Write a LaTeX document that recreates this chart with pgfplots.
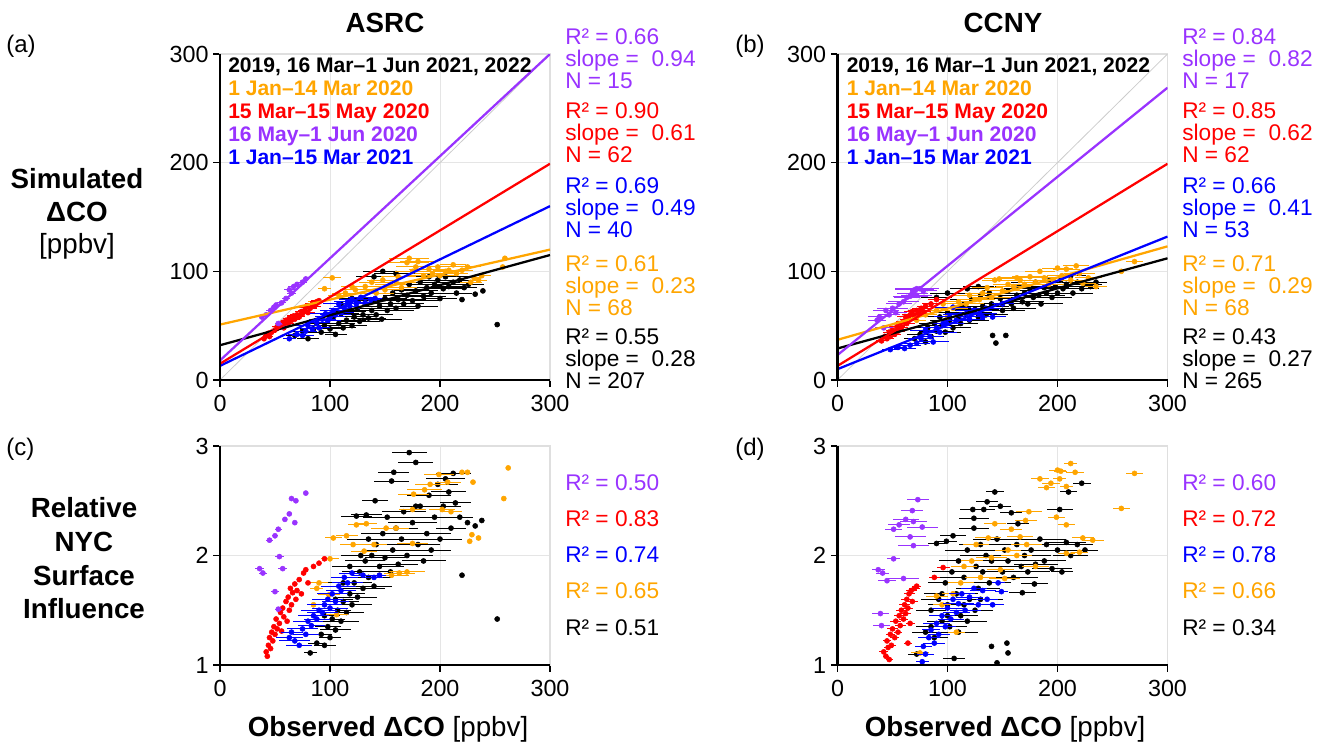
\documentclass[border=0pt]{standalone}
\usepackage{fontspec}
\setmainfont{Liberation Sans}
\usepackage{pgfplots}
\pgfplotsset{compat=1.18}
\definecolor{cpur}{HTML}{9933FF}
\definecolor{cora}{HTML}{FFA500}
\definecolor{cred}{HTML}{FF0000}
\definecolor{cblu}{HTML}{0000FF}

\newcommand\annfont{\fontsize{17}{17}\selectfont}
\newcommand\legfont{\fontsize{15.8}{16}\selectfont\bfseries}
\newcommand\labfont{\fontsize{20.8}{21}\selectfont}
% one line of coloured text, baseline at (x,y) in pixels
\newcommand\ann[4]{\node[anchor=base west, inner sep=0, text=#3, font=\annfont] at (#1,#2) {#4};}
\newcommand\leg[4]{\node[anchor=base west, inner sep=0, text=#3, font=\legfont] at (#1,#2) {#4};}

\pgfplotsset{
  panel/.style={
    scale only axis, width=247.5pt,
    xmin=0, xmax=300, xtick={0,100,200,300},
    axis line style={draw=gray!25, line width=0.8pt},
    grid=major, grid style={gray!20, line width=0.7pt},
    xtick pos=left, ytick pos=left,
    tick align=outside, major tick length=5pt,
    tick style={black, line width=1.1pt},
    ticklabel style={font=\fontsize{17.5}{18}\selectfont},
    xticklabel style={yshift=-3pt},
    /pgf/number format/assume math mode=true,
    clip mode=individual,
  },
  pts/.style={only marks, mark=*, mark size=1.9pt,
    error bars/x dir=both, error bars/x explicit,
    error bars/error mark=none,
    error bars/error bar style={line width=0.75pt}},
  fit/.style={no marks, line width=1.7pt},
}

\begin{document}
\begin{tikzpicture}
\path[use as bounding box] (0,0) rectangle (994.5pt,-558.75pt);

% ---------------- (a) ASRC simulated
\begin{axis}[panel, at={(165pt,-285pt)}, anchor=south west, height=244.5pt,
  ymin=0, ymax=300, ytick={0,100,200,300}]
\addplot[gray!40, line width=0.6pt] coordinates {(0,0) (300,300)};
\addplot[pts, color=black] table[x error=ex] {
x y ex
68 41 8
75 45 10
80 38 10
85 47 12
88 52 10
92 44 14
95 50 12
98 55 15
100 47 12
103 58 14
105 42 10
108 52 15
110 61 16
112 48 12
115 55 18
118 63 15
120 50 14
122 58 20
125 66 16
127 54 18
130 60 20
132 70 18
135 57 16
138 64 22
140 73 20
142 60 15
145 68 22
147 56 18
150 75 20
152 64 24
155 70 18
157 80 22
160 66 20
162 74 25
165 83 20
167 70 18
170 78 22
172 88 20
175 73 24
178 82 20
180 68 18
182 90 22
185 77 20
188 85 24
190 95 20
192 80 18
195 88 22
198 92 20
200 75 15
203 84 18
205 95 20
208 86 16
212 90 18
215 80 14
218 92 15
222 85 12
226 88 14
220 74 0
232 79 0
239 82 0
252 51 0
160 98 20
148 100 18
140 95 16
120 75 14
110 70 12
};
\addplot[pts, color=cora] table[x error=ex] {
x y ex
82 67 6
88 72 8
95 84 6
102 94 8
108 78 10
114 80 12
120 86 10
123 83 14
128 76 12
132 86 14
138 90 12
142 80 16
148 92 14
150 83 16
155 88 14
160 90 18
162 95 16
165 85 14
170 108 20
172 112 18
175 100 16
178 104 18
180 109 16
185 96 14
190 102 18
193 98 16
198 104 16
200 96 14
205 100 16
208 101 14
212 106 12
215 98 10
220 101 10
225 104 12
228 90 10
231 94 8
235 92 8
238 96 8
257 104 0
259 112 0
};
\addplot[pts, color=cred] table[x error=ex] {
x y ex
40 38 3
42 41 3
44 43 4
45 40 3
47 44 4
50 46 4
52 49 5
55 50 5
57 53 5
58 48 4
60 55 5
62 52 5
63 57 6
65 55 5
67 59 6
68 56 5
70 60 6
72 58 5
74 63 6
75 61 6
77 64 6
78 67 6
80 62 6
82 66 6
84 70 7
86 68 6
88 72 6
90 73 7
};
\addplot[pts, color=cpur] table[x error=ex] {
x y ex
38 58 4
42 60 3
46 64 4
49 67 3
51 69 4
53 52 3
56 71 4
57 49 3
60 75 4
63 83 5
65 80 4
67 86 5
70 88 4
75 90 4
78 93 3
};
\addplot[pts, color=cblu] table[x error=ex] {
x y ex
63 38 6
70 42 8
75 41 10
78 45 10
80 50 12
84 47 10
88 53 12
90 48 10
93 56 12
96 61 14
98 55 12
100 58 14
103 64 12
105 60 14
108 70 14
110 62 12
113 66 14
116 72 12
118 68 14
120 74 12
124 70 14
128 76 12
132 71 10
137 74 8
141 75 6
};
\addplot[fit, color=black] coordinates {(0,32) (300,115)};
\addplot[fit, color=cora] coordinates {(0,51) (300,120)};
\addplot[fit, color=cblu] coordinates {(0,13) (300,160)};
\addplot[fit, color=cred] coordinates {(0,15) (300,199)};
\addplot[fit, color=cpur] coordinates {(0,18) (300,300)};
\draw[black, line width=1.6pt] (rel axis cs:0,1) -- (rel axis cs:0,0) -- (rel axis cs:1,0);
\end{axis}

% ---------------- (b) CCNY simulated
\begin{axis}[panel, at={(628.125pt,-285pt)}, anchor=south west, height=244.5pt,
  ymin=0, ymax=300, ytick={0,100,200,300}]
\addplot[gray!40, line width=0.6pt] coordinates {(0,0) (300,300)};
\addplot[pts, color=black] table[x error=ex] {
x y ex
70 38 10
75 42 12
80 35 10
82 48 14
85 40 12
88 52 14
90 45 16
93 58 14
95 50 18
98 44 14
100 62 16
102 55 18
105 48 16
108 66 18
110 58 20
112 52 16
115 70 20
118 62 22
120 55 18
122 74 20
125 65 22
128 58 20
130 78 22
132 68 24
135 60 20
138 80 22
140 70 24
141 41 0
144 34 0
148 75 22
150 64 20
153 41 0
155 82 24
158 70 22
160 66 20
163 78 24
165 86 22
168 72 20
170 80 24
173 70 22
175 84 24
178 76 20
180 90 22
183 78 24
185 70 20
188 85 22
190 80 24
193 92 20
195 76 18
198 86 22
200 80 20
203 92 18
205 84 20
208 88 16
212 96 14
214 80 18
218 90 14
222 84 16
226 88 14
230 86 12
235 90 10
100 80 16
90 76 14
118 84 16
128 86 14
};
\addplot[pts, color=cora] table[x error=ex] {
x y ex
72 55 8
80 60 10
90 64 12
96 70 10
100 58 12
105 66 14
110 72 14
117 70 16
120 78 14
125 74 16
129 74 14
132 80 16
136 85 14
140 76 18
143 92 12
147 93 14
150 82 16
155 88 14
160 86 16
163 94 16
166 92 14
170 88 18
175 95 16
180 90 16
184 100 14
188 94 16
192 88 14
196 92 16
200 103 14
204 96 14
208 102 12
212 92 14
217 105 12
220 98 14
223 89 12
228 94 12
235 86 10
258 100 0
270 109 8
};
\addplot[pts, color=cred] table[x error=ex] {
x y ex
40 36 5
43 40 6
45 38 6
47 44 6
48 40 5
50 46 6
52 42 6
54 49 7
55 45 6
57 52 7
58 48 6
60 54 7
62 58 8
63 52 7
65 56 8
66 60 7
68 63 8
70 58 7
72 64 8
74 61 7
76 66 8
78 63 7
80 68 8
85 70 8
90 74 8
};
\addplot[pts, color=cpur] table[x error=ex] {
x y ex
36 55 8
38 58 10
42 48 8
44 64 12
47 60 10
50 66 14
53 62 10
56 70 12
60 72 14
63 76 12
66 77 16
68 80 14
70 83 18
72 84 20
75 84 16
78 82 12
72 78 14
};
\addplot[pts, color=cblu] table[x error=ex] {
x y ex
48 28 8
55 30 8
61 29 10
66 32 10
72 34 12
76 38 12
80 46 14
84 40 12
87 35 14
90 48 14
93 44 16
96 52 14
99 52 16
102 58 14
105 67 16
108 55 14
112 60 16
117 61 18
120 56 14
124 64 16
129 61 16
132 58 14
135 66 14
141 58 12
150 70 10
};
\addplot[fit, color=black] coordinates {(0,29) (300,112)};
\addplot[fit, color=cora] coordinates {(0,37) (300,123)};
\addplot[fit, color=cblu] coordinates {(0,10) (300,132)};
\addplot[fit, color=cred] coordinates {(0,13) (300,199)};
\addplot[fit, color=cpur] coordinates {(0,23) (300,269)};
\draw[black, line width=1.6pt] (rel axis cs:0,1) -- (rel axis cs:0,0) -- (rel axis cs:1,0);
\end{axis}

% ---------------- (c) ASRC influence
\begin{axis}[panel, at={(165pt,-498.75pt)}, anchor=south west, height=164.25pt,
  ymin=1, ymax=3, ytick={1,2,3}]
\addplot[pts, color=black] table[x error=ex] {
x y ex
82 1.11 6
88 1.20 8
92 1.28 10
95 1.18 10
95 1.45 14
98 1.35 12
100 1.25 10
102 1.42 12
105 1.32 14
105 1.60 16
107 1.50 12
110 1.40 16
112 1.58 14
112 1.75 18
115 1.48 16
118 1.65 14
118 1.90 16
120 1.55 18
122 1.75 16
125 1.62 18
127 1.85 16
128 2.00 18
130 1.70 20
132 1.95 18
135 1.80 20
135 2.15 20
138 2.00 18
140 1.72 16
142 2.10 20
145 1.90 22
148 2.20 20
150 1.98 18
152 2.35 22
155 1.85 20
157 2.05 24
160 2.25 20
162 1.92 18
165 2.15 22
167 2.40 20
170 2.00 24
172 2.94 16
175 2.30 22
178 2.85 16
180 2.10 20
182 2.45 18
185 1.95 20
188 2.20 22
190 2.55 20
192 2.05 18
195 2.35 22
198 2.65 18
200 2.15 20
203 2.45 16
205 2.70 18
208 2.58 16
210 2.25 14
212 2.75 16
214 2.48 14
218 2.35 12
220 1.82 0
225 2.30 0
232 2.27 0
238 2.32 0
252 1.42 0
158 2.76 14
156 2.68 16
141 2.50 12
133 2.37 14
124 2.36 14
178 2.45 12
};
\addplot[pts, color=cora] table[x error=ex] {
x y ex
85 1.55 6
88 1.70 6
90 1.75 8
99 1.64 10
100 1.97 8
103 2.16 8
106 1.46 10
115 2.18 10
121 2.10 12
124 2.28 8
131 2.04 12
133 2.29 10
140 2.10 12
145 1.82 14
151 2.25 14
156 1.82 16
160 2.25 12
163 1.84 14
170 1.85 16
175 2.42 12
175 2.11 14
176 2.56 14
186 2.60 16
191 2.65 14
199 2.74 14
202 2.42 12
207 2.67 12
210 2.40 10
220 2.76 0
225 2.76 0
227 2.13 0
229 2.19 0
230 2.67 0
235 2.16 0
258 2.52 0
262 2.80 0
};
\addplot[pts, color=cred] table[x error=ex] {
x y ex
42 1.12 2
43 1.08 2
44 1.18 2
45 1.25 2
46 1.15 2
47 1.30 2
48 1.22 2
49 1.35 2
50 1.28 2
51 1.42 2
52 1.33 2
54 1.38 2
55 1.48 2
56 1.31 2
57 1.52 2
58 1.44 2
60 1.58 2
61 1.40 2
62 1.62 2
63 1.50 2
64 1.70 2
65 1.55 2
66 1.66 2
68 1.74 2
69 1.60 2
70 1.68 2
72 1.78 2
74 1.65 2
76 1.84 2
78 1.87 2
80 1.75 2
85 1.90 2
90 1.93 2
95 1.97 2
};
\addplot[pts, color=cpur] table[x error=ex] {
x y ex
36 1.88 4
39 1.84 4
45 2.14 3
50 2.18 3
50 1.67 4
53 2.24 3
53 1.51 3
54 1.99 4
57 1.88 4
59 2.33 2
63 2.38 2
65 2.52 2
68 2.30 2
69 2.50 2
78 2.57 2
};
\addplot[pts, color=cblu] table[x error=ex] {
x y ex
63 1.25 12
65 1.30 10
68 1.22 14
72 1.18 12
75 1.33 14
78 1.28 12
80 1.40 14
83 1.36 12
85 1.45 14
88 1.42 12
90 1.50 16
93 1.48 14
95 1.55 16
98 1.60 14
100 1.52 16
102 1.65 14
105 1.58 12
108 1.72 16
110 1.68 14
113 1.80 12
116 1.75 14
120 1.84 12
130 1.82 10
140 1.80 8
145 1.82 6
};
\draw[black, line width=1.6pt] (rel axis cs:0,1) -- (rel axis cs:0,0) -- (rel axis cs:1,0);
\end{axis}

% ---------------- (d) CCNY influence
\begin{axis}[panel, at={(628.125pt,-498.75pt)}, anchor=south west, height=164.25pt,
  ymin=1, ymax=3, ytick={1,2,3}]
\addplot[pts, color=black] table[x error=ex] {
x y ex
72 1.10 8
80 1.30 12
85 1.50 14
85 1.35 14
88 1.25 12
90 2.11 8
92 1.60 16
95 1.40 14
95 1.65 16
98 1.75 16
99 2.13 10
100 1.55 18
100 1.45 14
102 1.35 16
104 1.85 18
105 2.18 12
106 1.06 10
108 1.65 20
110 1.95 18
110 1.30 18
112 1.45 16
115 1.80 22
115 1.55 20
118 2.05 20
118 1.40 18
120 1.60 18
123 2.42 12
124 2.25 14
124 2.34 14
125 1.50 16
126 1.90 22
128 1.70 20
130 2.10 20
130 1.60 20
132 1.85 22
133 2.42 10
135 2.00 24
136 2.49 10
138 1.75 20
140 1.17 0
140 1.95 22
143 2.58 8
145 1.02 0
145 2.15 22
148 2.45 10
150 1.85 24
152 2.05 22
154 1.20 0
155 1.11 0
155 1.95 20
158 2.39 10
160 1.80 22
163 2.10 24
164 2.29 10
167 1.90 22
168 1.66 12
170 2.00 24
173 1.85 20
176 2.05 22
179 1.74 12
180 1.92 20
184 2.15 24
188 1.95 20
190 2.10 22
195 1.88 18
200 2.05 20
202 2.42 12
204 1.85 10
208 2.12 18
210 2.58 8
212 2.00 16
218 2.10 14
222 2.66 8
225 2.05 12
};
\addplot[pts, color=cora] table[x error=ex] {
x y ex
75 1.11 8
90 1.63 10
95 1.55 8
105 1.65 10
108 1.30 8
112 1.75 12
115 1.90 12
122 1.95 10
126 2.10 12
130 1.80 14
137 2.16 12
140 1.98 14
143 2.29 10
148 1.87 12
152 1.79 14
155 2.05 12
158 2.24 10
163 2.00 14
166 2.17 12
171 2.32 10
172 2.10 14
174 2.40 12
180 1.90 12
184 2.70 8
190 2.62 8
194 2.66 8
199 2.35 8
200 2.78 8
202 2.70 6
203 2.77 6
208 2.63 6
208 2.28 8
208 2.02 8
212 2.84 6
216 2.76 8
220 2.03 8
223 2.16 10
232 2.14 10
258 2.43 8
270 2.75 8
};
\addplot[pts, color=cred] table[x error=ex] {
x y ex
42 1.12 4
44 1.08 3
46 1.16 4
45 1.22 4
47 1.05 3
48 1.28 4
49 1.18 4
50 1.33 5
52 1.25 4
53 1.40 5
55 1.30 4
56 1.45 5
57 1.36 5
58 1.50 5
60 1.42 4
61 1.55 5
62 1.47 5
63 1.60 5
64 1.52 5
65 1.65 5
66 1.38 4
67 1.68 5
68 1.58 5
70 1.70 5
72 1.72 4
64 1.20 4
88 1.80 5
96 1.89 6
};
\addplot[pts, color=cpur] table[x error=ex] {
x y ex
37 1.87 6
40 1.36 8
39 1.47 8
41 1.84 6
45 1.77 8
51 1.97 6
51 2.24 8
56 2.28 10
60 1.79 14
62 2.33 12
66 2.17 14
68 2.41 10
69 2.09 14
69 2.31 12
73 2.51 10
77 2.26 14
};
\addplot[pts, color=cblu] table[x error=ex] {
x y ex
77 1.03 6
78 1.17 8
80 1.10 8
83 1.25 10
85 1.32 8
88 1.20 10
90 1.38 12
92 1.28 10
95 1.45 12
98 1.35 10
100 1.52 14
103 1.42 12
105 1.60 14
108 1.48 12
110 1.56 14
113 1.65 12
116 1.50 14
120 1.62 12
124 1.70 12
128 1.55 14
132 1.68 12
136 1.60 10
141 1.55 10
146 1.75 6
149 1.67 6
};
\draw[black, line width=1.6pt] (rel axis cs:0,1) -- (rel axis cs:0,0) -- (rel axis cs:1,0);
\end{axis}

\begin{scope}[x=0.75pt, y=-0.75pt]
% ---------------- titles and labels
\node[anchor=base, inner sep=0, font=\labfont\bfseries] at (385,33) {ASRC};
\node[anchor=base, inner sep=0, font=\labfont\bfseries] at (1003,33) {CCNY};
\node[anchor=base west, inner sep=0, font=\fontsize{18}{18}\selectfont] at (6,53) {(a)};
\node[anchor=base west, inner sep=0, font=\fontsize{18}{18}\selectfont] at (735,53) {(b)};
\node[anchor=base west, inner sep=0, font=\fontsize{18}{18}\selectfont] at (6,455) {(c)};
\node[anchor=base west, inner sep=0, font=\fontsize{18}{18}\selectfont] at (735,455) {(d)};
\node[anchor=base, inner sep=0, font=\labfont\bfseries] at (77,189) {Simulated};
\node[anchor=base, inner sep=0, font=\labfont\bfseries] at (77,222) {ΔCO};
\node[anchor=base, inner sep=0, font=\labfont] at (77,253) {[ppbv]};
\node[anchor=base, inner sep=0, font=\labfont\bfseries] at (84,517) {Relative};
\node[anchor=base, inner sep=0, font=\labfont\bfseries] at (84,551) {NYC};
\node[anchor=base, inner sep=0, font=\labfont\bfseries] at (84,585) {Surface};
\node[anchor=base, inner sep=0, font=\labfont\bfseries] at (84,618) {Influence};
\node[anchor=base, inner sep=0, font=\labfont] at (388,736) {\textbf{Observed ΔCO} [ppbv]};
\node[anchor=base, inner sep=0, font=\labfont] at (1005,736) {\textbf{Observed ΔCO} [ppbv]};

% legends
\leg{228}{72.5}{black}{2019, 16 Mar–1 Jun 2021, 2022}
\leg{228}{95.5}{cora}{1 Jan–14 Mar 2020}
\leg{228}{118.5}{cred}{15 Mar–15 May 2020}
\leg{228}{142}{cpur}{16 May–1 Jun 2020}
\leg{228}{165}{cblu}{1 Jan–15 Mar 2021}
\leg{846.5}{72.5}{black}{2019, 16 Mar–1 Jun 2021, 2022}
\leg{846.5}{95.5}{cora}{1 Jan–14 Mar 2020}
\leg{846.5}{118.5}{cred}{15 Mar–15 May 2020}
\leg{846.5}{142}{cpur}{16 May–1 Jun 2020}
\leg{846.5}{165}{cblu}{1 Jan–15 Mar 2021}

% statistics (a)
\ann{565}{45}{cpur}{R² = 0.66}
\ann{565}{67}{cpur}{slope = \ 0.94}
\ann{565}{89}{cpur}{N = 15}
\ann{565}{119}{cred}{R² = 0.90}
\ann{565}{141}{cred}{slope = \ 0.61}
\ann{565}{163}{cred}{N = 62}
\ann{565}{194}{cblu}{R² = 0.69}
\ann{565}{216}{cblu}{slope = \ 0.49}
\ann{565}{238}{cblu}{N = 40}
\ann{565}{271}{cora}{R² = 0.61}
\ann{565}{293}{cora}{slope = \ 0.23}
\ann{565}{315}{cora}{N = 68}
\ann{565}{344}{black}{R² = 0.55}
\ann{565}{366}{black}{slope = \ 0.28}
\ann{565}{388}{black}{N = 207}
% statistics (b)
\ann{1182}{45}{cpur}{R² = 0.84}
\ann{1182}{67}{cpur}{slope = \ 0.82}
\ann{1182}{89}{cpur}{N = 17}
\ann{1182}{119}{cred}{R² = 0.85}
\ann{1182}{141}{cred}{slope = \ 0.62}
\ann{1182}{163}{cred}{N = 62}
\ann{1182}{194}{cblu}{R² = 0.66}
\ann{1182}{216}{cblu}{slope = \ 0.41}
\ann{1182}{238}{cblu}{N = 53}
\ann{1182}{271}{cora}{R² = 0.71}
\ann{1182}{293}{cora}{slope = \ 0.29}
\ann{1182}{315}{cora}{N = 68}
\ann{1182}{344}{black}{R² = 0.43}
\ann{1182}{366}{black}{slope = \ 0.27}
\ann{1182}{388}{black}{N = 265}
% statistics (c)
\ann{565}{490}{cpur}{R² = 0.50}
\ann{565}{526}{cred}{R² = 0.83}
\ann{565}{562}{cblu}{R² = 0.74}
\ann{565}{598}{cora}{R² = 0.65}
\ann{565}{635}{black}{R² = 0.51}
% statistics (d)
\ann{1182}{490}{cpur}{R² = 0.60}
\ann{1182}{526}{cred}{R² = 0.72}
\ann{1182}{562}{cblu}{R² = 0.78}
\ann{1182}{598}{cora}{R² = 0.66}
\ann{1182}{635}{black}{R² = 0.34}
\end{scope}
\end{tikzpicture}
\end{document}
